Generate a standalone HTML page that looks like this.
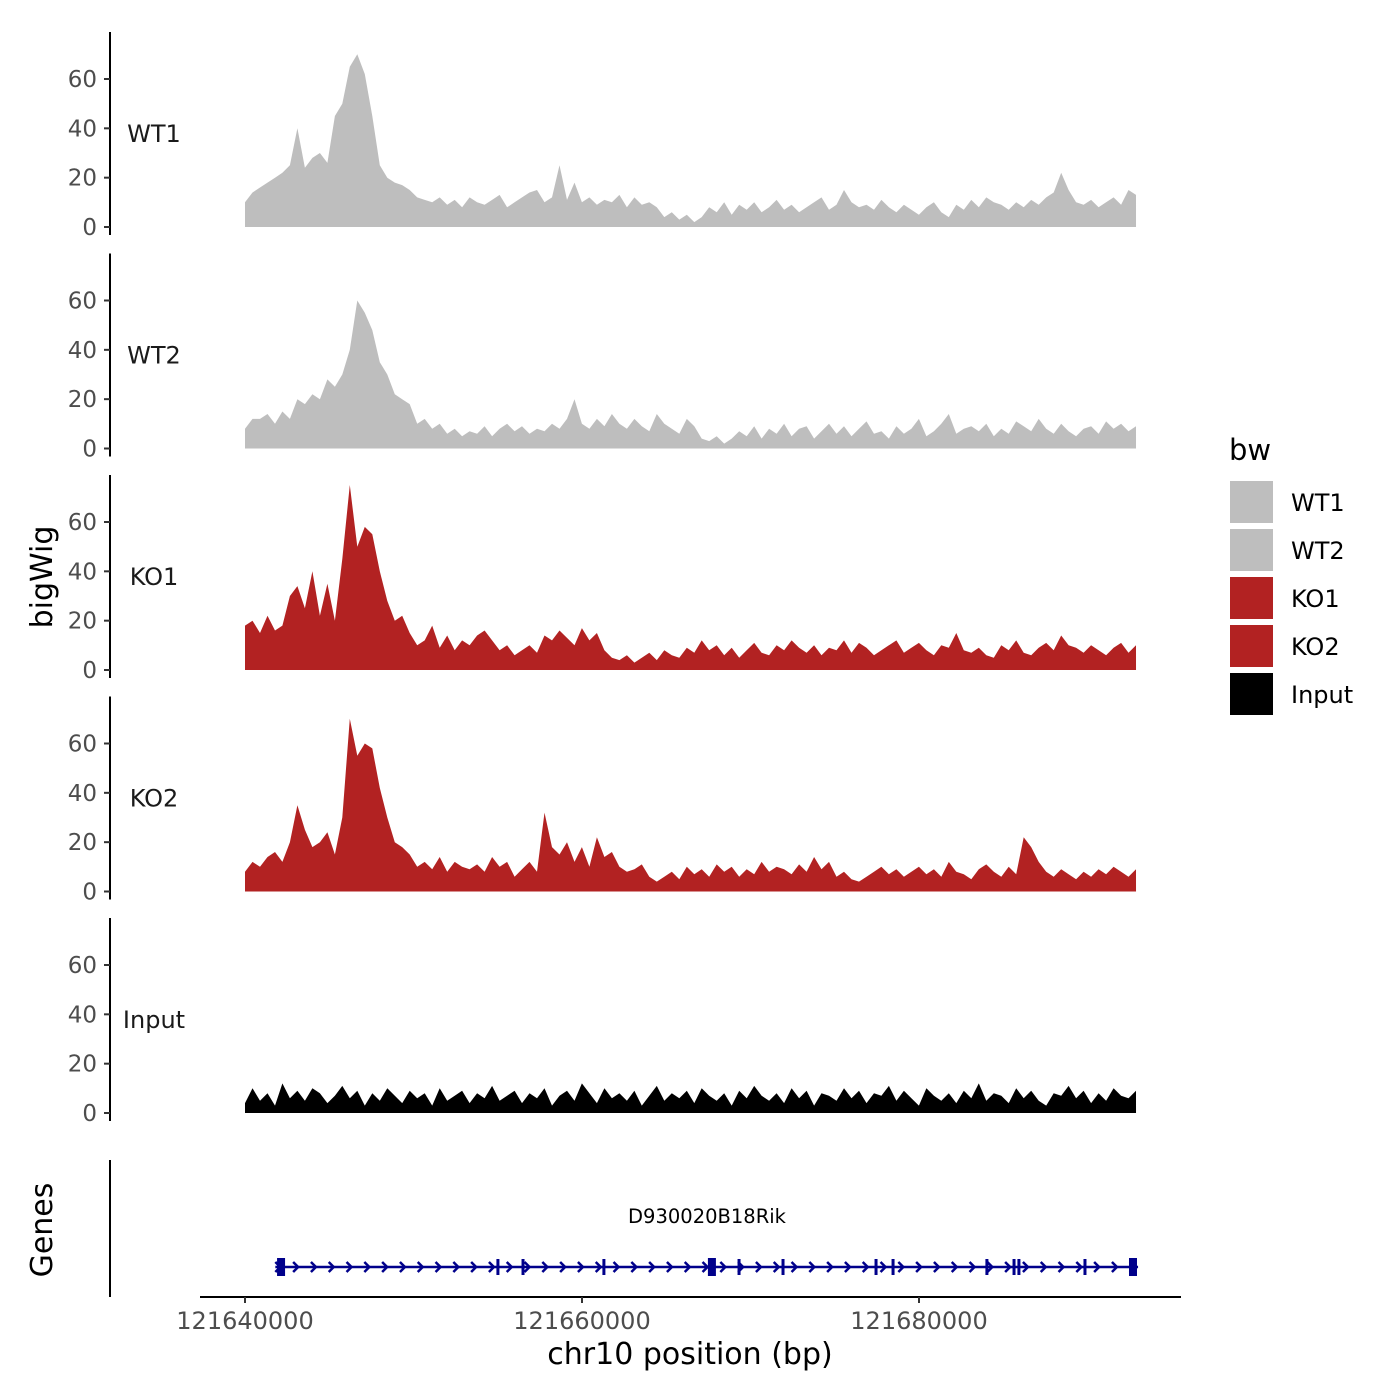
<!DOCTYPE html>
<html><head><meta charset="utf-8"><style>
body{margin:0;background:#fff}
svg{display:block;font-family:"DejaVu Sans","Liberation Sans",sans-serif}
</style></head><body>
<svg id="c" width="1400" height="1400" xmlns="http://www.w3.org/2000/svg"></svg>
<script>
const samples=["WT1","WT2","KO1","KO2","Input"];
const colors=["#bebebe","#bebebe","#b22222","#b22222","#000000"];
const wt1=[10,14,16,18,20,22,25,40,24,28,30,26,45,50,65,70,62,45,25,20,18,17,15,12,11,10,12,9,11,8,12,10,9,11,13,8,10,12,14,15,10,12,25,11,18,10,12,9,11,10,13,8,12,9,10,8,4,6,3,5,2,4,8,6,10,5,9,7,10,6,8,11,7,9,6,8,10,12,7,9,15,10,8,9,7,11,8,6,9,7,5,8,10,6,4,9,7,11,8,12,10,9,7,10,8,11,9,12,14,22,15,10,9,11,8,10,12,9,15,13];
const wt2=[8,12,12,14,10,15,12,20,18,22,20,28,25,30,40,60,55,48,35,30,22,20,18,10,12,8,10,6,8,5,7,6,9,5,8,10,7,9,6,8,7,10,8,12,20,10,8,12,9,14,10,8,12,9,7,14,10,8,6,12,9,4,3,5,2,4,7,5,9,4,8,6,10,5,8,9,4,7,10,6,9,5,8,11,6,7,4,9,6,8,12,5,7,10,14,6,8,9,7,10,5,8,6,11,9,7,12,8,6,10,7,5,8,9,6,11,8,10,7,9];
const ko1=[18,20,15,22,16,18,30,34,25,40,22,35,20,45,75,50,58,55,40,28,20,22,15,10,12,18,9,14,8,12,10,14,16,12,8,10,6,8,10,7,14,12,16,13,10,17,12,15,8,5,4,6,3,5,7,4,8,6,5,9,7,12,8,10,6,9,5,8,11,7,6,10,8,12,9,7,10,6,9,8,12,7,11,9,6,8,10,12,7,9,11,8,6,10,9,15,8,7,9,6,5,10,8,12,7,6,9,11,8,14,10,9,7,10,8,6,9,11,7,10];
const ko2=[8,12,10,14,16,12,20,35,25,18,20,24,15,30,70,55,60,58,42,30,20,18,15,10,12,9,14,8,12,10,9,11,8,14,10,12,6,9,12,8,32,18,15,20,12,18,10,22,14,16,10,8,9,11,6,4,6,8,5,10,7,9,6,11,8,10,6,9,7,12,8,10,9,7,11,8,14,9,12,6,8,5,4,6,8,10,7,9,6,8,10,7,9,6,12,8,7,5,9,11,8,6,10,7,22,18,12,8,6,9,7,5,8,6,9,7,10,8,6,9];
const inp=[4,10,5,8,3,12,6,9,5,10,8,4,7,11,6,9,3,8,5,10,7,4,9,6,8,3,10,5,7,9,4,8,6,11,5,7,9,4,8,6,10,3,7,9,5,12,8,4,10,6,8,5,9,3,7,11,5,8,6,9,4,10,7,5,8,3,9,6,11,7,5,8,4,10,6,9,3,8,7,5,10,6,9,4,8,7,11,5,9,6,3,10,7,5,8,4,9,6,12,5,8,7,4,10,6,9,5,3,8,7,11,6,9,4,8,5,10,7,6,9];
const series=[wt1,wt2,ko1,ko2,inp];
const yTicks=[0,20,40,60];
const xTicks=[121640000,121660000,121680000];
const covStart=121640000, covEnd=121692880;
const geneStart=121641800, geneEnd=121693000;
const exons=[121642140,121655010,121656500,121661300,121667710,121669320,121671930,121677450,121678460,121684030,121685640,121685930,121689850,121692700];
const thickExons=[121642140,121667710,121692700];

const svg=document.getElementById('c');
const NS="http://www.w3.org/2000/svg";
function mk(tag,attrs,parent){const e=document.createElementNS(NS,tag);for(const k in attrs)e.setAttribute(k,attrs[k]);(parent||svg).appendChild(e);return e;}
const xs=bp=>245+(bp-121640000)*0.01685;
const panelStep=221.5, pxPerUnit=148/60;

series.forEach((d,p)=>{
  const g=mk('g',{});
  
  
  const y0=227+p*panelStep;
  const ys=v=>y0-v*pxPerUnit;
  const ax=mk('line',{x1:110,x2:110,y1:y0-195,y2:y0+8,stroke:'#000','stroke-width':2},g);
  
  
  yTicks.forEach(t=>{
    mk('line',{x1:104,x2:110,y1:ys(t),y2:ys(t),stroke:'#333','stroke-width':2},g);
    const tx=mk('text',{x:97,y:ys(t)+8,'text-anchor':'end','font-size':23,fill:'#4d4d4d'},g);
    tx.textContent=t;
    
    
  });
  const lab=mk('text',{x:154,y:y0-85,'text-anchor':'middle','font-size':24,fill:'#1a1a1a'},g);
  lab.textContent=samples[p];
  
  
  const n=d.length;
  let pts=`${xs(covStart)},${y0} `;
  d.forEach((v,i)=>{const bp=covStart+(covEnd-covStart)*i/(n-1);pts+=`${xs(bp).toFixed(1)},${ys(v).toFixed(1)} `;});
  pts+=`${xs(covEnd)},${y0}`;
  const area=mk('polygon',{points:pts,fill:colors[p]},g);
  
  
});

const yt=mk('text',{x:0,y:0,transform:'translate(52,577) rotate(-90)','text-anchor':'middle','font-size':30});
yt.textContent='bigWig';



const gt=mk('text',{x:0,y:0,transform:'translate(52,1230) rotate(-90)','text-anchor':'middle','font-size':30});
gt.textContent='Genes';


const gax=mk('line',{x1:110,x2:110,y1:1160,y2:1297,stroke:'#000','stroke-width':2});


const xax=mk('line',{x1:200,x2:1181,y1:1297,y2:1297,stroke:'#000','stroke-width':2});


xTicks.forEach(t=>{
  mk('line',{x1:xs(t),x2:xs(t),y1:1297,y2:1303,stroke:'#333','stroke-width':2});
  const tx=mk('text',{x:xs(t),y:1329,'text-anchor':'middle','font-size':24,fill:'#4d4d4d'});
  tx.textContent=t;
  
  
});
const xt=mk('text',{x:690,y:1364,'text-anchor':'middle','font-size':30});
xt.textContent='chr10 position (bp)';



const gene=mk('g',{});


const gy=1267;
mk('line',{x1:xs(geneStart),x2:xs(geneEnd),y1:gy,y2:gy,stroke:'#00008b','stroke-width':2.5},gene);
for(let x=xs(geneStart);x<xs(geneEnd)-6;x+=17.8){
  mk('polyline',{points:`${x},${gy-5} ${x+5},${gy} ${x},${gy+5}`,fill:'none',stroke:'#00008b','stroke-width':2.5},gene);
}
exons.forEach(e=>{
  const thick=thickExons.includes(e);
  mk('rect',{x:xs(e)-(thick?4:1.5),y:gy-(thick?9:8),width:thick?8:3,height:thick?18:16,fill:'#00008b'},gene);
});
const gl=mk('text',{x:707,y:1223,'text-anchor':'middle','font-size':19.5},gene);
gl.textContent='D930020B18Rik';



const lg=mk('g',{});


const lt=mk('text',{x:1229,y:460,'font-size':29},lg);
lt.textContent='bw';
samples.forEach((s,i)=>{
  const y=481+i*48;
  const r=mk('rect',{x:1230,y:y,width:43,height:42,fill:colors[i]},lg);
  
  
  const t=mk('text',{x:1291,y:y+30,'font-size':24},lg);
  t.textContent=s;
  
  
});
</script>
</body></html>
